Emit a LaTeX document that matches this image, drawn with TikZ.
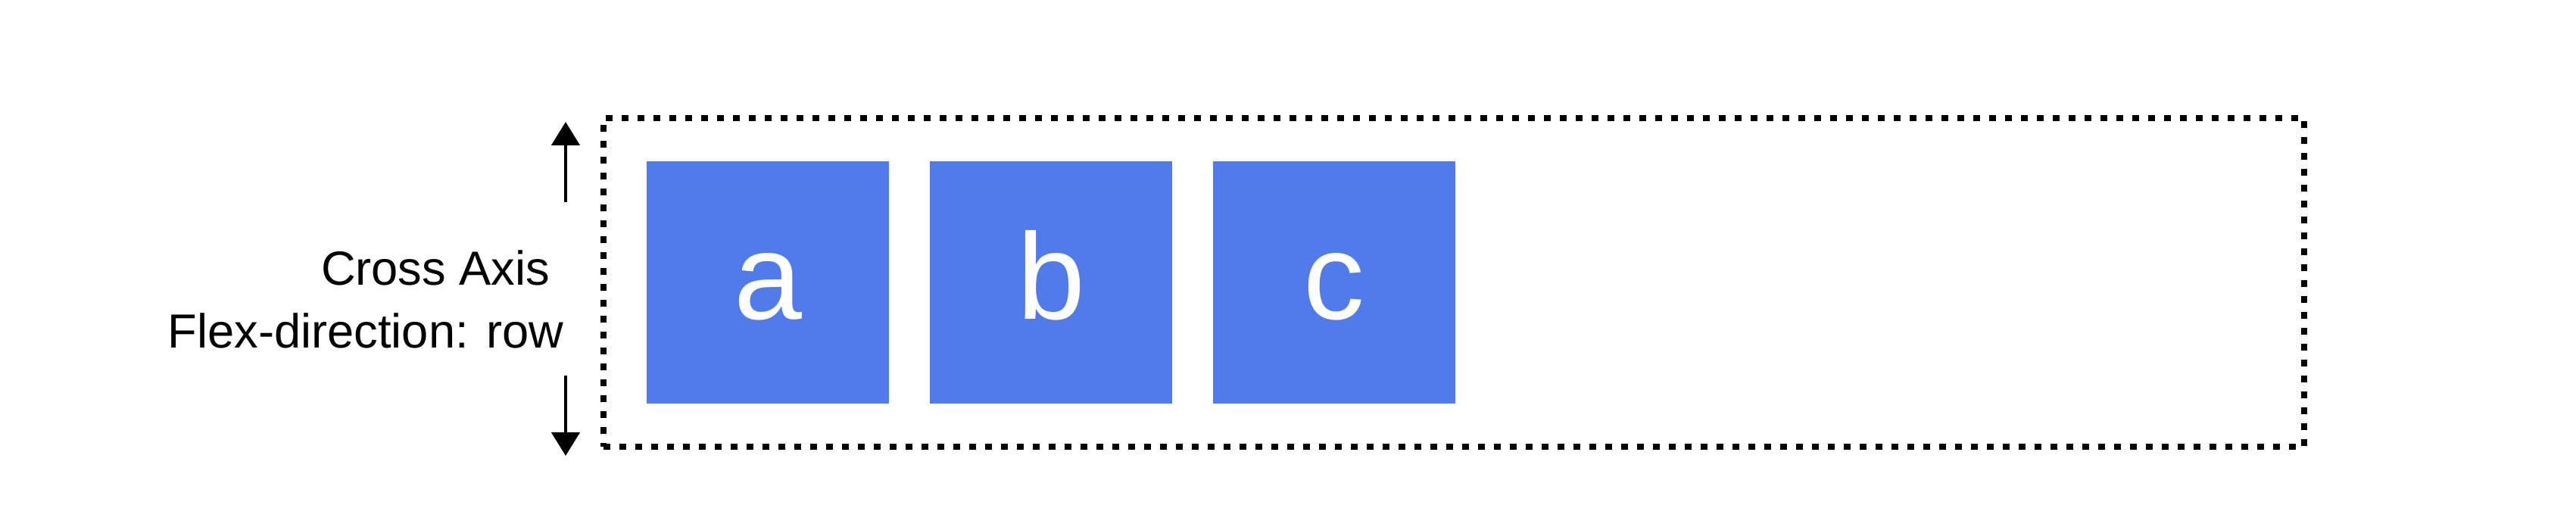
\documentclass[tikz,border=0pt]{standalone}
\usepackage{fontspec}
\setmainfont{Liberation Sans}
\usetikzlibrary{arrows.meta}
\definecolor{itemblue}{RGB}{81,123,235}
\tikzset{
  item/.style={fill=itemblue,text=white,minimum size=3.2cm,inner sep=0pt,
    text height=1.17cm,text depth=0.19cm,font=\fontsize{46}{50}\selectfont},
  axislbl/.style={anchor=base east,inner sep=0pt,font=\fontsize{18}{22}\selectfont},
  axisarrow/.style={-{Triangle[width=0.37cm,length=0.31cm]},line width=0.045cm}
}
\begin{document}
\begin{tikzpicture}
         \useasboundingbox (0,0) rectangle (34.02,6.96) ;
         % container
         \node[draw,line width=0.08cm,dash pattern=on 0.09cm off 0.12cm,
               minimum width=22.46cm,minimum height=4.34cm] (flexbox) at (19.20,3.23) {} ;
         % items
         \node[item] (itema) at (10.14,3.23) {a} ;
         \node[item] (itemb) at (13.88,3.23) {b} ;
         \node[item] (itemc) at (17.62,3.23) {c} ;
         % cross axis
         \node[axislbl] (crosslbl) at (7.27,3.19) {Cross Axis} ;
         \node[axislbl] (dirlbl) at (7.45,2.36) {Flex-direction: row} ;
         \coordinate (uptail) at (7.47,4.29) ;
         \coordinate (uphead) at (7.47,5.35) ;
         \coordinate (downtail) at (7.47,2.00) ;
         \coordinate (downhead) at (7.47,0.94) ;
         \draw[axisarrow] (uptail) -- (uphead) ;
         \draw[axisarrow] (downtail) -- (downhead) ;
\end{tikzpicture}
\end{document}
